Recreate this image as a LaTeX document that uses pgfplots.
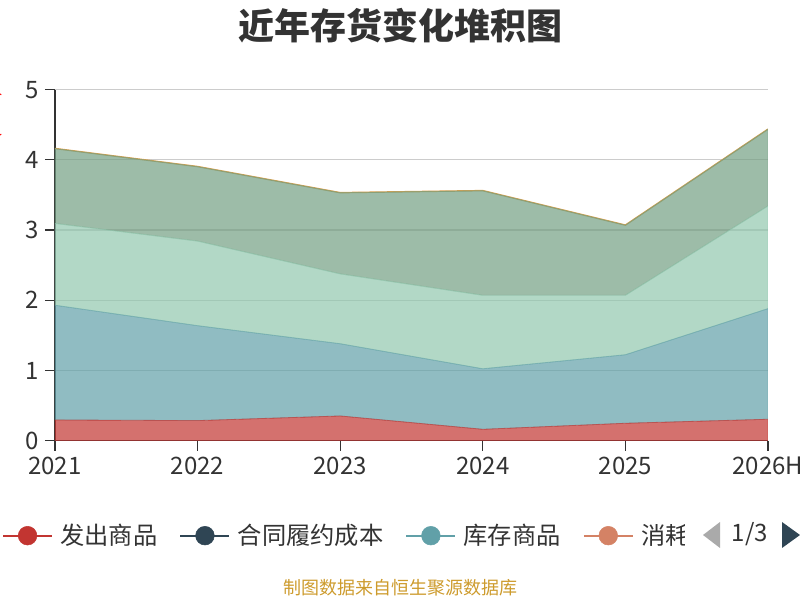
\documentclass[border=0pt]{standalone}
\usepackage{fontspec}
\setmainfont{Noto Sans CJK SC}
\usepackage{pgfplots}
\pgfplotsset{compat=1.18}
\usepackage{trimclip}
\definecolor{cred}{HTML}{C23531}
\definecolor{cnavy}{HTML}{2F4554}
\definecolor{cteal}{HTML}{61A0A8}
\definecolor{corange}{HTML}{D48265}
\definecolor{clgreen}{HTML}{91C7AE}
\definecolor{cdgreen}{HTML}{749F83}
\definecolor{cgold}{HTML}{E3A048}
\definecolor{ctext}{HTML}{333333}
\definecolor{cgrid}{HTML}{CCCCCC}
\definecolor{cfoot}{RGB}{205,155,45}
\definecolor{cgray}{HTML}{AAAAAA}
\begin{document}
\begin{tikzpicture}
\useasboundingbox (0,0) rectangle (600pt,450pt);
\begin{axis}[
  at={(41.25pt,119.5pt)}, anchor=south west,
  scale only axis, width=534.75pt, height=263.25pt,
  xmin=0, xmax=5, ymin=0, ymax=5,
  xtick={0,1,2,3,4,5},
  xticklabels={2021,2022,2023,2024,2025,2026H},
  ytick={0,1,2,3,4,5},
  ymajorgrids,
  grid style={cgrid, line width=0.9pt},
  axis x line*=bottom, axis y line*=left,
  axis line style={ctext, line width=0.9pt, -},
  tick style={ctext, line width=0.9pt},
  major tick length=7.5pt, tick align=outside,
  /pgf/number format/assume math mode=true,
  tick label style={font=\fontsize{18}{18}\selectfont, text=ctext},
  yticklabel style={xshift=-1pt},
  xticklabel style={yshift=-1pt},
  stack plots=y,
  legend columns=4,
  legend style={at={(axis description cs:-0.0743,-0.2707)}, anchor=west,
    draw=none, fill=none, inner sep=0pt, outer sep=0pt,
    nodes={inner sep=0pt, font=\fontsize{18.2}{18.2}\selectfont, text=ctext},
    /tikz/every odd column/.append style={column sep=5.5pt},
    /tikz/every even column/.append style={column sep=16.5pt}},
  legend cell align=left,
  legend image code/.code={\draw[#1, line width=1.5pt] (0pt,0pt) -- (36.75pt,0pt); \fill[#1] (18.4pt,0pt) circle (7pt);},
]
\addplot[fill=cred, fill opacity=0.7, draw=cred, draw opacity=0.6, line width=0.6pt, forget plot]
  coordinates {(0,0.295) (1,0.286) (2,0.352) (3,0.162) (4,0.248) (5,0.305)} \closedcycle;
\addplot[fill=cteal, fill opacity=0.7, draw=cteal, draw opacity=0.5, line width=0.6pt, forget plot]
  coordinates {(0,1.634) (1,1.352) (2,1.029) (3,0.862) (4,0.976) (5,1.576)} \closedcycle;
\addplot[fill=clgreen, fill opacity=0.7, draw=clgreen, draw opacity=0.5, line width=0.6pt, forget plot]
  coordinates {(0,1.166) (1,1.205) (2,0.995) (3,1.047) (4,0.847) (5,1.462)} \closedcycle;
\addplot[fill=cdgreen, fill opacity=0.7, draw=cdgreen, draw opacity=0.5, line width=0.6pt, forget plot]
  coordinates {(0,1.067) (1,1.062) (2,1.157) (3,1.491) (4,1.000) (5,1.095)} \closedcycle;
\addplot[draw=cgold, line width=1.1pt, forget plot]
  coordinates {(0,0) (1,0) (2,0) (3,0) (4,0) (5,0)};
\addlegendimage{cred}
\addlegendentry{发出商品}
\addlegendimage{cnavy}
\addlegendentry{合同履约成本}
\addlegendimage{cteal}
\addlegendentry{库存商品}
\addlegendimage{corange}
\addlegendentry{\clipbox{0pt 0pt 3.5pt 0pt}{消耗}}
\end{axis}
% title
\node[font=\fontsize{27}{27}\selectfont\bfseries, text=ctext] at (300pt,430.5pt) {近年存货变化堆积图};
% cut-off y-axis name
\node[rotate=90, anchor=south, inner sep=0pt, font=\fontsize{13.5}{13.5}\selectfont, text=red] at (1.5pt,363.75pt) {(亿元)};
% legend pager
\fill[cgray] (540pt,58.5pt) -- (540pt,39pt) -- (527.25pt,48.75pt) -- cycle;
\node[font=\fontsize{18}{18}\selectfont, text=ctext] at (562.5pt,49.5pt) {1/3};
\fill[cnavy] (586.5pt,58.5pt) -- (586.5pt,39pt) -- (600pt,48.75pt) -- cycle;
% footer
\node[font=\fontsize{13.5}{13.5}\selectfont, text=cfoot] at (300pt,9pt) {制图数据来自恒生聚源数据库};
\end{tikzpicture}
\end{document}
